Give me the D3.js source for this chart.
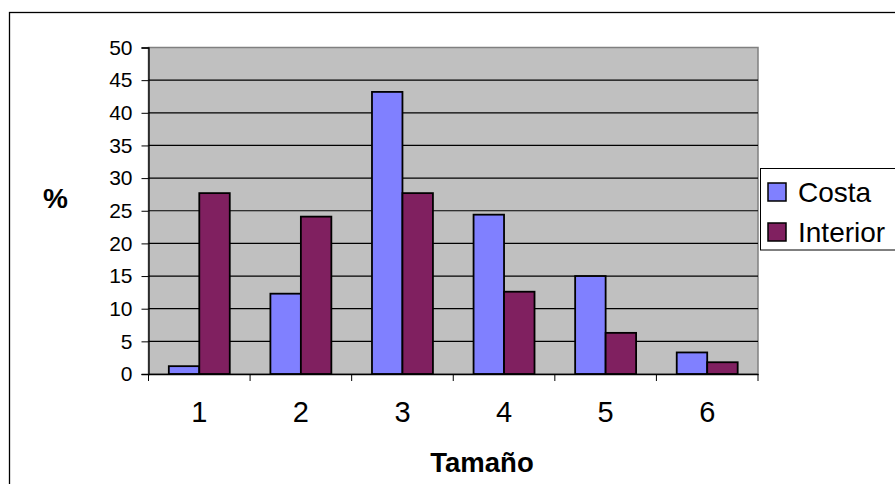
<!DOCTYPE html>
<html>
<head>
<meta charset="utf-8">
<script src="https://cdn.jsdelivr.net/npm/d3@7"></script>
<style>
  body { margin: 0; background: #fff; }
  svg { display: block; font-family: "Liberation Sans", Arial, sans-serif; }
</style>
</head>
<body>
<div id="chart"></div>
<script>
// Data
const categories = ['1', '2', '3', '4', '5', '6'];
const seriesNames = ['Costa', 'Interior'];
const costa = [1.2, 12.3, 43.2, 24.4, 15.0, 3.3];
const interior = [27.7, 24.1, 27.7, 12.6, 6.3, 1.8];
const yTicks = [0, 5, 10, 15, 20, 25, 30, 35, 40, 45, 50];
const colors = ['#8080FF', '#802060'];

const width = 895, height = 484;
const plot = { left: 148.5, right: 758, top: 47.5, bottom: 374 };

const svg = d3.select('#chart').append('svg')
    .attr('width', width)
    .attr('height', height);

// outer chart border (runs off the right and bottom)
svg.append('rect')
    .attr('x', 9.5).attr('y', 12.5)
    .attr('width', 900).attr('height', 500)
    .attr('fill', 'none')
    .attr('stroke', '#000')
    .attr('stroke-width', 1.3);

const x0 = d3.scaleBand()
    .domain(categories)
    .range([plot.left, plot.right])
    .padding(0);

const x1 = d3.scaleBand()
    .domain(seriesNames)
    .range([x0.bandwidth() * 0.2, x0.bandwidth() * 0.8])
    .padding(0);

const y = d3.scaleLinear()
    .domain([0, 50])
    .range([plot.bottom, plot.top]);

// plot background
svg.append('rect')
    .attr('x', plot.left).attr('y', plot.top)
    .attr('width', plot.right - plot.left)
    .attr('height', plot.bottom - plot.top)
    .attr('fill', '#C0C0C0')
    .attr('stroke', '#808080')
    .attr('stroke-width', 1.5);

// gridlines
svg.append('g')
    .selectAll('line')
    .data(yTicks.filter(d => d > 0 && d < 50))
    .enter().append('line')
    .attr('x1', plot.left).attr('x2', plot.right)
    .attr('y1', d => y(d)).attr('y2', d => y(d))
    .attr('stroke', '#000')
    .attr('stroke-width', 1.2);

// bars
const table = categories.map((c, i) => ({ cat: c, values: [costa[i], interior[i]] }));

const groups = svg.append('g')
    .selectAll('g')
    .data(table)
    .enter().append('g')
    .attr('transform', d => `translate(${x0(d.cat)},0)`);

groups.selectAll('rect')
    .data(d => d.values.map((v, j) => ({ name: seriesNames[j], value: v, j: j })))
    .enter().append('rect')
    .attr('x', d => x1(d.name))
    .attr('y', d => y(d.value))
    .attr('width', x1.bandwidth())
    .attr('height', d => y(0) - y(d.value))
    .attr('fill', d => colors[d.j])
    .attr('stroke', '#000')
    .attr('stroke-width', 1.8);

// y axis
const yAxis = svg.append('g')
    .attr('transform', `translate(${plot.left},0)`)
    .call(d3.axisLeft(y).tickValues(yTicks).tickSize(7).tickPadding(9));
yAxis.select('.domain').attr('stroke', '#000').attr('stroke-width', 1.3);
yAxis.selectAll('line').attr('stroke', '#000');
yAxis.selectAll('text')
    .style('font-size', '21px')
    .attr('fill', '#000');

// x axis (ticks at category boundaries)
const xAxis = svg.append('g')
    .attr('transform', `translate(0,${plot.bottom})`)
    .call(d3.axisBottom(x0).tickSize(0).tickPadding(27));
xAxis.select('.domain').attr('stroke', '#000').attr('stroke-width', 1.3);
xAxis.selectAll('text')
    .style('font-size', '29px')
    .attr('fill', '#000');

svg.append('g')
    .selectAll('line')
    .data(categories.map(c => x0(c)).concat([plot.right]))
    .enter().append('line')
    .attr('x1', d => d).attr('x2', d => d)
    .attr('y1', plot.bottom).attr('y2', plot.bottom + 7)
    .attr('stroke', '#000')
    .attr('stroke-width', 1);

// axis titles
svg.append('text')
    .attr('x', 55.5).attr('y', 208)
    .attr('text-anchor', 'middle')
    .style('font-size', '28px')
    .style('font-weight', 'bold')
    .text('%');

svg.append('text')
    .attr('x', 482).attr('y', 472)
    .attr('text-anchor', 'middle')
    .style('font-size', '27.5px')
    .style('font-weight', 'bold')
    .text('Tamaño');

// legend
const legend = svg.append('g');
legend.append('rect')
    .attr('x', 760.5).attr('y', 168.5)
    .attr('width', 200).attr('height', 81.5)
    .attr('fill', '#fff')
    .attr('stroke', '#000')
    .attr('stroke-width', 1);

const items = legend.selectAll('.legend-item')
    .data(seriesNames)
    .enter().append('g')
    .attr('class', 'legend-item')
    .attr('transform', (d, i) => `translate(768, ${183 + i * 40})`);

items.append('rect')
    .attr('width', 18).attr('height', 18)
    .attr('fill', (d, i) => colors[i])
    .attr('stroke', '#000')
    .attr('stroke-width', 1.5);

items.append('text')
    .attr('x', 30).attr('y', 18.5)
    .style('font-size', '28px')
    .attr('fill', '#000')
    .text(d => d);
</script>
</body>
</html>
